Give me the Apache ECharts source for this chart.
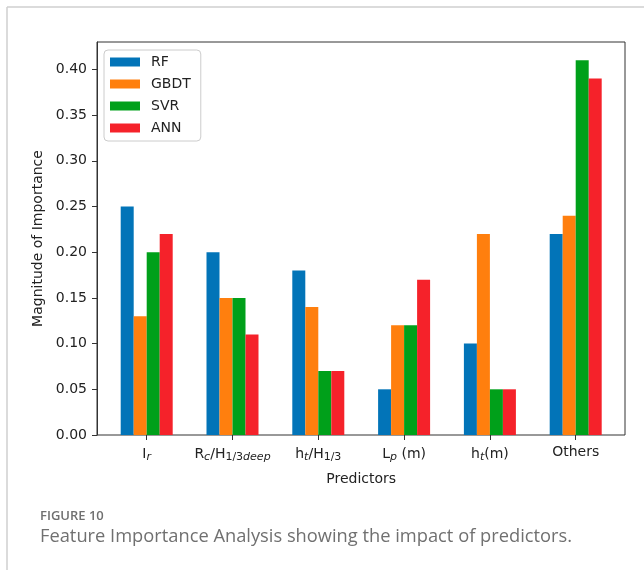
<!DOCTYPE html>
<html>
<head>
<meta charset="utf-8">
<script src="https://cdn.jsdelivr.net/npm/echarts@6/dist/echarts.min.js"></script>
<style>
  html, body { margin: 0; padding: 0; background: #fff; }
  #chart { width: 644px; height: 570px; }
</style>
</head>
<body>
<div id="chart"></div>
<script>
// Predictor names and their tick labels (rich text for subscripts)
const categories = ['Ir', 'Rc/H1/3deep', 'ht/H1/3', 'Lp (m)', 'ht(m)', 'Others'];
const tickLabels = [
  '{n|I}{si|r}',
  '{n|R}{si|c}{n|/H}{s|1/3}{si|deep}',
  '{n|h}{si|t}{n|/H}{s|1/3}',
  '{n|L}{si|p}{n| (m)}',
  '{n|h}{si|t}{n|(m)}',
  '{n|Others}'
];

// Feature importance per model
const rf   = [0.25, 0.20, 0.18, 0.05, 0.10, 0.22];
const gbdt = [0.13, 0.15, 0.14, 0.12, 0.22, 0.24];
const svr  = [0.20, 0.15, 0.07, 0.12, 0.05, 0.41];
const ann  = [0.22, 0.11, 0.07, 0.17, 0.05, 0.39];

const seriesNames = ['RF', 'GBDT', 'SVR', 'ANN'];
const seriesData = [rf, gbdt, svr, ann];
const colors = ['#0274b8', '#ff7f0e', '#00a01a', '#f5222a'];

const yTicks = { min: 0, max: 0.43, interval: 0.05 };

const FONT = 'DejaVu Sans';
const chart = echarts.init(document.getElementById('chart'), null, { renderer: 'canvas' });

chart.setOption({
  animation: false,
  backgroundColor: '#fff',
  color: colors,
  textStyle: { fontFamily: FONT },
  grid: [
    // frame with the value axis
    { left: 97, top: 42, width: 528, height: 393, show: true, borderColor: '#333', borderWidth: 1, backgroundColor: 'transparent' },
    // bar area
    { left: 103.8, top: 42, width: 514.8, height: 393 }
  ],
  xAxis: [
    { gridIndex: 0, type: 'value', show: false, min: 0, max: 1 },
    {
      gridIndex: 1, type: 'category', data: categories,
      axisLine: { show: false },
      axisTick: { show: true, alignWithLabel: true, length: 5, interval: 0, lineStyle: { color: '#333' } },
      axisLabel: {
        margin: 10,
        interval: 0,
        fontFamily: FONT,
        formatter: (v, i) => tickLabels[i],
        rich: {
          n:  { fontSize: 14, color: '#222', fontFamily: FONT },
          s:  { fontSize: 11, color: '#222', fontFamily: FONT, padding: [7, 0, 0, 0] },
          si: { fontSize: 11, color: '#222', fontFamily: FONT, fontStyle: 'italic', padding: [7, 0, 0, 0] }
        }
      },
      name: 'Predictors',
      nameLocation: 'middle',
      nameGap: 37,
      nameTextStyle: { fontSize: 14, color: '#222', fontFamily: FONT }
    }
  ],
  yAxis: [
    {
      gridIndex: 0, type: 'value', min: yTicks.min, max: yTicks.max, interval: yTicks.interval,
      axisLine: { show: true, lineStyle: { color: '#333' } },
      axisTick: { show: true, length: 5, lineStyle: { color: '#333' } },
      splitLine: { show: false },
      axisLabel: {
        fontSize: 14, color: '#222', margin: 10, fontFamily: FONT,
        showMaxLabel: false,
        formatter: v => (v > 0.41 ? '' : v.toFixed(2))
      },
      name: 'Magnitude of Importance',
      nameLocation: 'middle',
      nameGap: 51,
      nameTextStyle: { fontSize: 14, color: '#222', fontFamily: FONT }
    },
    { gridIndex: 1, type: 'value', show: false, min: yTicks.min, max: yTicks.max }
  ],
  legend: {
    orient: 'vertical',
    left: 104, top: 50,
    data: seriesNames,
    itemWidth: 30, itemHeight: 9, itemGap: 8,
    padding: [5, 10, 6, 6],
    borderColor: '#ccc', borderWidth: 1, borderRadius: 4,
    backgroundColor: '#fff',
    icon: 'rect',
    textStyle: { fontSize: 14, color: '#222', fontFamily: FONT, padding: [0, 0, 0, 6] }
  },
  series: seriesNames.map((name, k) => ({
    name,
    type: 'bar',
    xAxisIndex: 1, yAxisIndex: 1,
    data: seriesData[k],
    barWidth: 13,
    barGap: '0%',
    itemStyle: { color: colors[k] }
  })),
  graphic: [
    { type: 'line', shape: { x1: 7, y1: 7, x2: 644, y2: 7 }, style: { stroke: '#cfcfcf', lineWidth: 1.5 }, silent: true },
    { type: 'line', shape: { x1: 7, y1: 7, x2: 7, y2: 570 }, style: { stroke: '#cfcfcf', lineWidth: 1.5 }, silent: true },
    { type: 'text', left: 40, top: 510, style: { text: 'FIGURE 10', font: '600 13px "Open Sans"', fill: '#707070' } },
    { type: 'text', left: 40, top: 528, style: { text: 'Feature Importance Analysis showing the impact of predictors.', font: '18.3px "Open Sans"', fill: '#707070' } }
  ]
});
</script>
</body>
</html>
